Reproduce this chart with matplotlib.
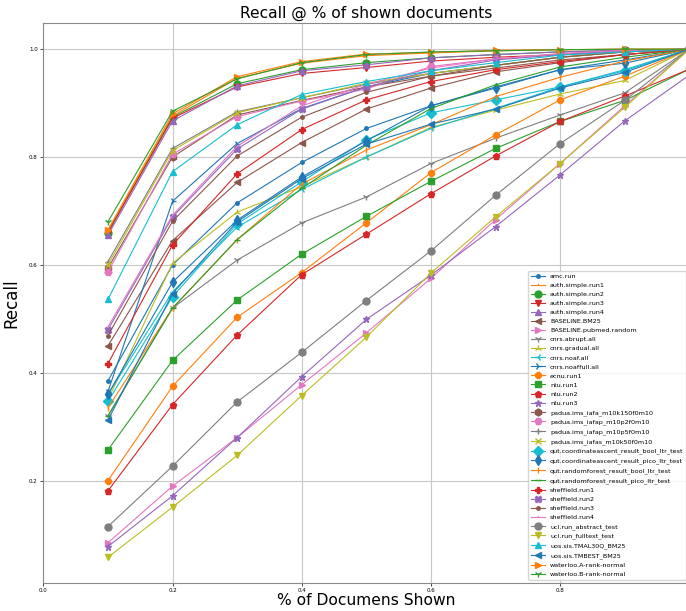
import numpy as np
import matplotlib
matplotlib.use("Agg")
import matplotlib.pyplot as plt

# percentage of shown documents
shown = [0.1, 0.2, 0.3, 0.4, 0.5, 0.6, 0.7, 0.8, 0.9, 1.0]

run_names = [
    'amc.run', 'auth.simple.run1', 'auth.simple.run2', 'auth.simple.run3', 'auth.simple.run4',
    'BASELINE.BM25', 'BASELINE.pubmed.random', 'cnrs.abrupt.all', 'cnrs.gradual.all',
    'cnrs.noaf.all', 'cnrs.noaffull.all', 'ecnu.run1', 'ntu.run1', 'ntu.run2', 'ntu.run3',
    'padua.ims_iafa_m10k150f0m10', 'padua.ims_iafap_m10p2f0m10', 'padua.ims_iafap_m10p5f0m10',
    'padua.ims_iafas_m10k50f0m10', 'qut.coordinateascent_result_bool_ltr_test',
    'qut.coordinateascent_result_pico_ltr_test', 'qut.randomforest_result_bool_ltr_test',
    'qut.randomforest_result_pico_ltr_test', 'sheffield.run1', 'sheffield.run2',
    'sheffield.run3', 'sheffield.run4', 'ucl.run_abstract_test', 'ucl.run_fulltext_test',
    'uos.sis.TMAL30Q_BM25', 'uos.sis.TMBEST_BM25', 'waterloo.A-rank-normal',
    'waterloo.B-rank-normal',
]

# recall values, one list per run
amc_run = [0.385, 0.600, 0.715, 0.790, 0.853, 0.895, 0.930, 0.962, 0.980, 1.0]
auth_run1 = [0.663, 0.876, 0.946, 0.974, 0.988, 0.993, 0.997, 0.999, 1.0, 1.0]
auth_run2 = [0.660, 0.874, 0.936, 0.962, 0.975, 0.984, 0.990, 0.995, 0.998, 1.0]
auth_run3 = [0.660, 0.872, 0.930, 0.955, 0.966, 0.978, 0.985, 0.990, 0.995, 1.0]
auth_run4 = [0.655, 0.867, 0.932, 0.960, 0.971, 0.984, 0.990, 0.995, 0.998, 1.0]
baseline_bm25 = [0.450, 0.645, 0.753, 0.827, 0.889, 0.928, 0.958, 0.975, 0.990, 1.0]
baseline_random = [0.085, 0.190, 0.280, 0.378, 0.474, 0.575, 0.684, 0.788, 0.895, 1.0]
cnrs_abrupt = [0.320, 0.520, 0.609, 0.678, 0.726, 0.788, 0.835, 0.878, 0.919, 1.0]
cnrs_gradual = [0.350, 0.603, 0.698, 0.745, 0.800, 0.855, 0.887, 0.917, 0.942, 1.0]
cnrs_noaf = [0.360, 0.550, 0.670, 0.740, 0.800, 0.853, 0.890, 0.930, 0.962, 1.0]
cnrs_noaffull = [0.365, 0.718, 0.825, 0.890, 0.930, 0.955, 0.970, 0.985, 0.995, 1.0]
ecnu_run1 = [0.200, 0.375, 0.503, 0.586, 0.678, 0.771, 0.841, 0.906, 0.950, 1.0]
ntu_run1 = [0.257, 0.423, 0.535, 0.620, 0.690, 0.755, 0.816, 0.866, 0.905, 0.963]
ntu_run2 = [0.181, 0.341, 0.470, 0.582, 0.657, 0.732, 0.802, 0.866, 0.913, 0.963]
ntu_run3 = [0.078, 0.172, 0.280, 0.393, 0.499, 0.581, 0.671, 0.767, 0.867, 0.952]
padua_k150 = [0.594, 0.800, 0.878, 0.905, 0.930, 0.950, 0.965, 0.980, 0.990, 1.0]
padua_p2 = [0.587, 0.805, 0.875, 0.904, 0.926, 0.968, 0.982, 0.990, 0.997, 1.0]
padua_p5 = [0.606, 0.816, 0.884, 0.910, 0.935, 0.955, 0.970, 0.985, 0.995, 1.0]
padua_k50 = [0.600, 0.812, 0.882, 0.910, 0.937, 0.955, 0.970, 0.985, 0.995, 1.0]
qut_ca_bool = [0.347, 0.541, 0.676, 0.754, 0.832, 0.882, 0.906, 0.930, 0.960, 1.0]
qut_ca_pico = [0.360, 0.568, 0.683, 0.763, 0.830, 0.895, 0.928, 0.962, 0.974, 1.0]
qut_rf_bool = [0.335, 0.520, 0.647, 0.750, 0.813, 0.860, 0.912, 0.948, 0.978, 1.0]
qut_rf_pico = [0.320, 0.520, 0.647, 0.742, 0.822, 0.890, 0.934, 0.967, 0.985, 1.0]
sheffield_run1 = [0.417, 0.637, 0.769, 0.851, 0.906, 0.940, 0.962, 0.977, 0.990, 1.0]
sheffield_run2 = [0.480, 0.689, 0.815, 0.889, 0.930, 0.960, 0.980, 0.990, 0.998, 1.0]
sheffield_run3 = [0.469, 0.681, 0.802, 0.874, 0.920, 0.950, 0.970, 0.985, 0.995, 1.0]
sheffield_run4 = [0.485, 0.692, 0.820, 0.895, 0.935, 0.965, 0.982, 0.992, 0.998, 1.0]
ucl_abstract = [0.115, 0.227, 0.346, 0.438, 0.534, 0.626, 0.729, 0.825, 0.905, 1.0]
ucl_fulltext = [0.058, 0.151, 0.247, 0.358, 0.466, 0.585, 0.689, 0.788, 0.892, 1.0]
uos_tmal30q = [0.536, 0.773, 0.860, 0.916, 0.940, 0.960, 0.975, 0.989, 0.995, 1.0]
uos_tmbest = [0.312, 0.547, 0.680, 0.760, 0.824, 0.861, 0.889, 0.928, 0.957, 1.0]
waterloo_a = [0.665, 0.880, 0.949, 0.977, 0.991, 0.994, 0.998, 0.999, 1.0, 1.0]
waterloo_b = [0.680, 0.885, 0.945, 0.975, 0.990, 0.995, 0.997, 0.999, 1.0, 1.0]

recalls = [
    amc_run, auth_run1, auth_run2, auth_run3, auth_run4, baseline_bm25, baseline_random,
    cnrs_abrupt, cnrs_gradual, cnrs_noaf, cnrs_noaffull, ecnu_run1, ntu_run1, ntu_run2,
    ntu_run3, padua_k150, padua_p2, padua_p5, padua_k50, qut_ca_bool, qut_ca_pico,
    qut_rf_bool, qut_rf_pico, sheffield_run1, sheffield_run2, sheffield_run3,
    sheffield_run4, ucl_abstract, ucl_fulltext, uos_tmal30q, uos_tmbest, waterloo_a,
    waterloo_b,
]

# marker list cycles, colours follow the default cycle
marcadores = ['.', ',', 'o', 'v', '^', '<', '>', '1', '2', '3', '4', '8', 's', 'p', '*',
              'h', 'H', '+', 'x', 'D', 'd', '|', '_', 'P', 'X']
cores = plt.rcParams['axes.prop_cycle'].by_key()['color']

fig = plt.figure(figsize=(6.86, 6.11), dpi=100)
ax = fig.add_axes([43.3 / 686, 28.3 / 611, 646 / 686, 559.4 / 611])

for i, (nome, valores) in enumerate(zip(run_names, recalls)):
    ax.plot(shown, valores, marker=marcadores[i % len(marcadores)], color=cores[i % 10],
            linewidth=0.8, markersize=5, label=nome)

ax.set_xlim(0, 1.0)
ax.set_ylim(0.011, 1.048)
ax.set_xticks([0.0, 0.2, 0.4, 0.6, 0.8, 1.0])
ax.set_xticklabels(['0.0', '0.2', '0.4', '0.6', '0.8', '1'])
ax.set_yticks([0.2, 0.4, 0.6, 0.8, 1.0])
ax.tick_params(labelsize=4, length=2, width=0.5, pad=2)
ax.grid(True, color='#c8c8c8', linewidth=0.8)
for s in ax.spines.values():
    s.set_color('#8a8a8a')

ax.set_title('Recall @ % of shown documents', fontsize=11.2, pad=4)
ax.set_xlabel('% of Documens Shown', fontsize=11.2, labelpad=0)
ax.set_ylabel('Recall', fontsize=12, labelpad=6)

ax.legend(loc='lower right', fontsize=4.6, labelspacing=0.56, handlelength=2.2,
          borderpad=0.4, framealpha=0.8)

fig.savefig('out.png', dpi=100)
